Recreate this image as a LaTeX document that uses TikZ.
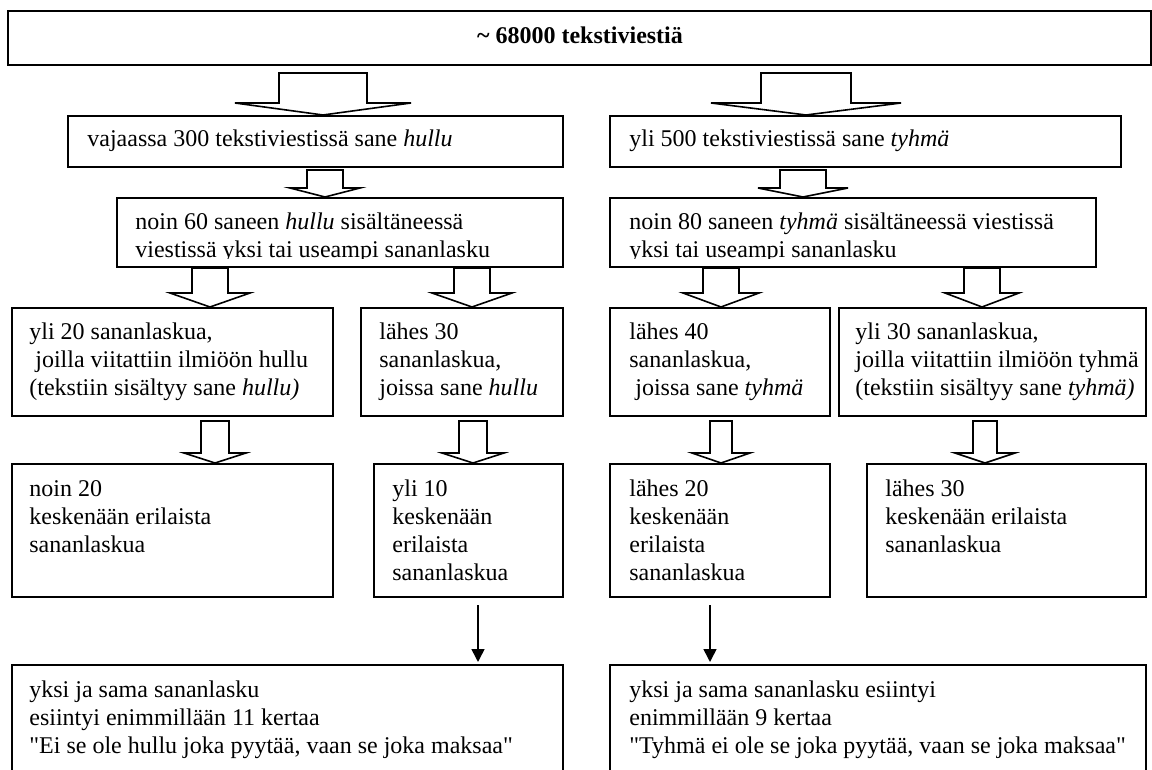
\documentclass[tikz,border=0pt]{standalone}
\usepackage{fontspec}
\setmainfont{Liberation Serif}
\usetikzlibrary{arrows.meta}
\newcommand\mkbox[5]{\node[boxst, minimum width={(#4-#2)*0.5pt}, minimum height={(#5-#3)*0.5pt}] (#1) at (#2,#3) {};}
\newcommand\blk[6]{\draw[blockst] ({#1-#5},#2) -- ({#1+#5},#2) -- ({#1+#5},#3) -- ({#1+#6},#3) -- (#1,#4) -- ({#1-#6},#3) -- ({#1-#5},#3) -- cycle;}
\newcommand\qq{\XeTeXglyph\the\XeTeXcharglyph"22\relax}
\begin{document}
\begin{tikzpicture}[x=0.5pt,y=-0.5pt,
  boxst/.style={draw, line width=0.8pt, fill=white, inner sep=0pt, anchor=north west},
  txt/.style={inner sep=0pt, anchor=base west, font=\fontsize{12}{14}\selectfont},
  blockst/.style={draw, line width=0.8pt, fill=white, line join=miter},
  solidarr/.style={line width=0.8pt, -{Triangle[length=6.5pt,width=6.5pt]}}]
\useasboundingbox (0,0) rectangle (1152,770);
% boxes
\mkbox{top}{7}{10}{1150}{64}
\mkbox{r2l}{67}{115}{562}{166}
\mkbox{r2r}{609}{115}{1120}{166}
\mkbox{r3l}{116}{197}{562}{266}
\mkbox{r3r}{609}{197}{1095}{266}
\mkbox{r4a}{11}{307}{332}{415}
\mkbox{r4b}{360}{307}{562}{415}
\mkbox{r4c}{609}{307}{829}{415}
\mkbox{r4d}{838}{307}{1145}{415}
\mkbox{r5a}{11}{463}{332}{596}
\mkbox{r5b}{373}{463}{562}{596}
\mkbox{r5c}{609}{463}{829}{596}
\mkbox{r5d}{866}{463}{1145}{596}
\mkbox{r6l}{11}{664}{562}{790}
\mkbox{r6r}{609}{664}{1145}{790}
% block arrows
\blk{323}{73}{103}{115}{44}{88}
\blk{806}{73}{103}{115}{45}{95}
\blk{325}{170}{188}{197}{18}{35}
\blk{803}{170}{188}{197}{23}{45}
\blk{210}{268}{293}{307}{18}{40}
\blk{472}{268}{293}{307}{18}{40}
\blk{721}{268}{293}{307}{18}{38}
\blk{982}{268}{293}{307}{18}{37}
\blk{215}{421}{453}{463}{14}{31}
\blk{473}{421}{453}{463}{14}{31}
\blk{721}{421}{453}{463}{11}{29}
\blk{985}{421}{453}{463}{12}{30}
% solid arrows
\coordinate (s1) at (478,605);
\coordinate (s2) at (710,605);
\draw[solidarr, shorten >=1pt] (s1) -- (s1 |- r6l.north);
\draw[solidarr, shorten >=1pt] (s2) -- (s2 |- r6r.north);
% texts
\node[txt, anchor=base] (ttop) at (580,44) {\bfseries\textasciitilde{} 68000 tekstiviestiä};
\node[txt] (t2l) at (87,147) {vajaassa 300 tekstiviestissä sane \textit{hullu}};
\node[txt] (t2r) at (629,147) {yli 500 tekstiviestissä sane \textit{tyhmä}};
\begin{scope}
\clip (116,197) rectangle (562,259);
\node[txt] (t3l) at (135,230) {\begin{tabular}[t]{@{}l@{}}noin 60 saneen \textit{hullu} sisältäneessä\\viestissä yksi tai useampi sananlasku\end{tabular}};
\end{scope}
\begin{scope}
\clip (609,197) rectangle (1095,259);
\node[txt] (t3r) at (629,230) {\begin{tabular}[t]{@{}l@{}}noin 80 saneen \textit{tyhmä} sisältäneessä viestissä\\yksi tai useampi sananlasku\end{tabular}};
\end{scope}
\node[txt] (t4a) at (29,340) {\begin{tabular}[t]{@{}l@{}}yli 20 sananlaskua,\\\ joilla viitattiin ilmiöön hullu\\(tekstiin sisältyy sane \textit{hullu)}\end{tabular}};
\node[txt] (t4b) at (379,340) {\begin{tabular}[t]{@{}l@{}}lähes 30\\sananlaskua,\\joissa sane \textit{hullu}\end{tabular}};
\node[txt] (t4c) at (629,340) {\begin{tabular}[t]{@{}l@{}}lähes 40\\sananlaskua,\\\ joissa sane \textit{tyhmä}\end{tabular}};
\node[txt] (t4d) at (855,340) {\begin{tabular}[t]{@{}l@{}}yli 30 sananlaskua,\\joilla viitattiin ilmiöön tyhmä\\(tekstiin sisältyy sane \textit{tyhmä)}\end{tabular}};
\node[txt] (t5a) at (29,496) {\begin{tabular}[t]{@{}l@{}}noin 20\\keskenään erilaista\\sananlaskua\end{tabular}};
\node[txt] (t5b) at (392,496) {\begin{tabular}[t]{@{}l@{}}yli 10\\keskenään\\erilaista\\sananlaskua\end{tabular}};
\node[txt] (t5c) at (629,496) {\begin{tabular}[t]{@{}l@{}}lähes 20\\keskenään\\erilaista\\sananlaskua\end{tabular}};
\node[txt] (t5d) at (885,496) {\begin{tabular}[t]{@{}l@{}}lähes 30\\keskenään erilaista\\sananlaskua\end{tabular}};
\node[txt] (t6l) at (29,697) {\begin{tabular}[t]{@{}l@{}}yksi ja sama sananlasku\\esiintyi enimmillään 11 kertaa\\\qq Ei se ole hullu joka pyytää, vaan se joka maksaa\qq\end{tabular}};
\node[txt] (t6r) at (629,697) {\begin{tabular}[t]{@{}l@{}}yksi ja sama sananlasku esiintyi\\enimmillään 9 kertaa\\\qq Tyhmä ei ole se joka pyytää, vaan se joka maksaa\qq\end{tabular}};
\end{tikzpicture}
\end{document}
